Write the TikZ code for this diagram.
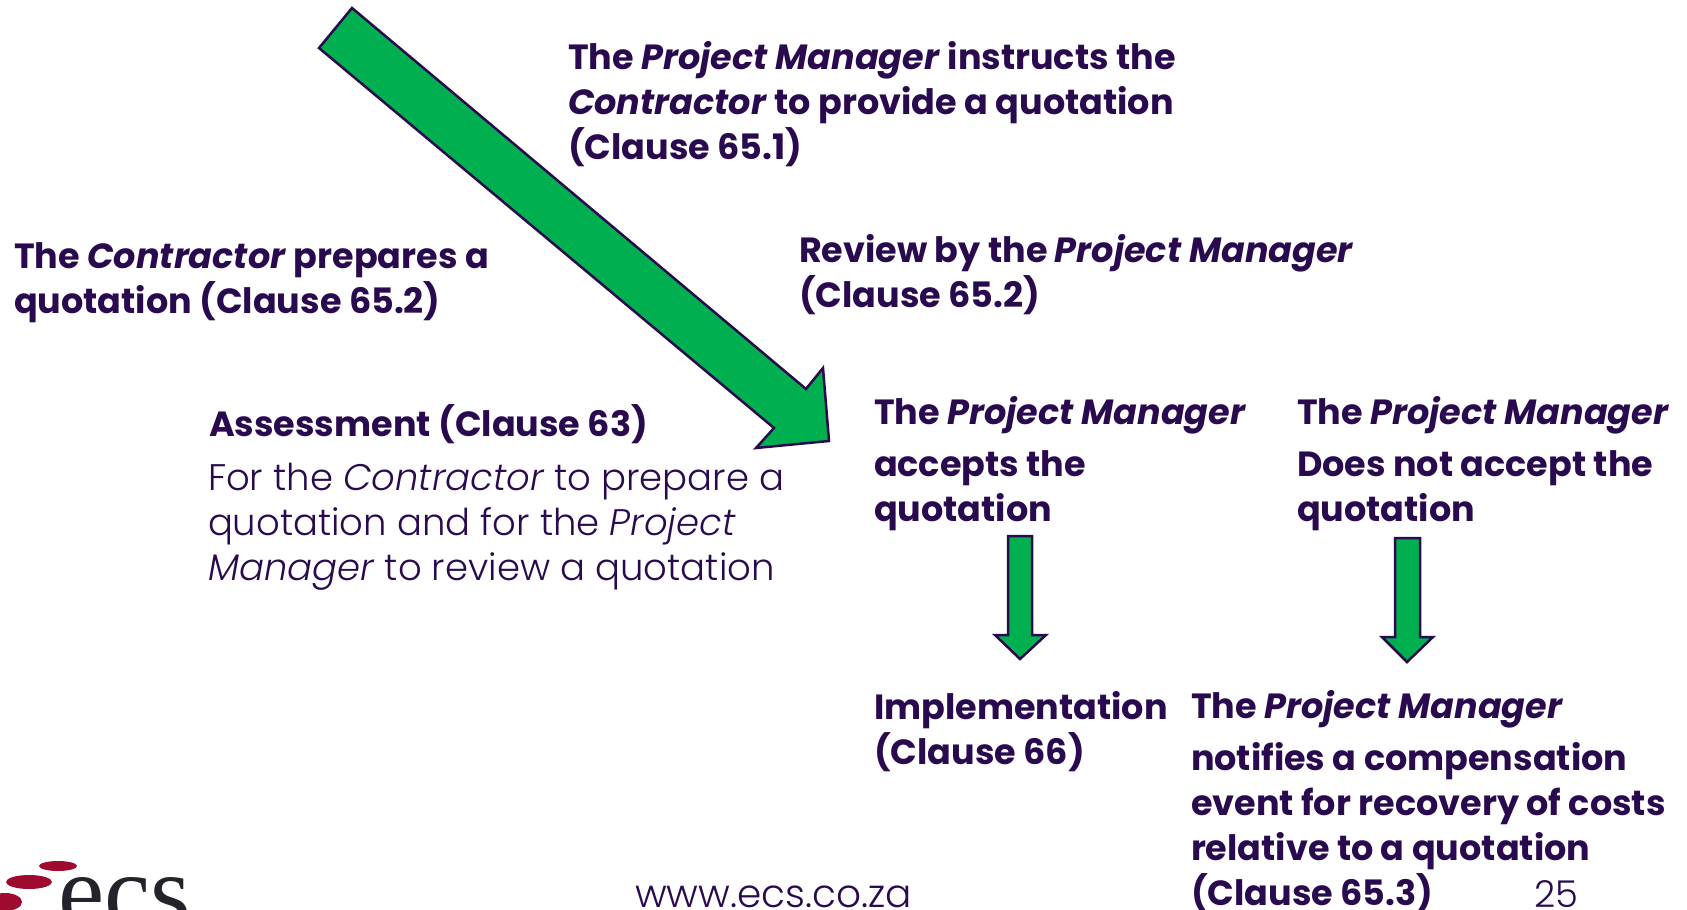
\documentclass[tikz,border=0pt]{standalone}
\usepackage{fontspec}
\setmainfont{Poppins}
\newfontfamily\lightfont[ItalicFont={Poppins Light Italic}]{Poppins Light}
\definecolor{ink}{HTML}{2A0A4E}
\definecolor{arrowgreen}{HTML}{00B050}
\definecolor{logored}{HTML}{9E0B2E}
\definecolor{logoink}{HTML}{23232B}
\tikzset{
  x=1pt,y=-1pt,
  txt/.style={anchor=base west,inner sep=0pt,outer sep=0pt,text=ink,align=left,font=\lightfont\fontsize{37}{45}\selectfont},
  bld/.style={txt,font=\fontsize{35}{45}\selectfont\bfseries},
  greenarrow/.style={fill=arrowgreen,draw=ink,line width=2.5pt,line join=miter},
  logodot/.style={fill=logored,draw=none}
}
\begin{document}
\begin{tikzpicture}
\useasboundingbox (0,0) rectangle (1687,910);
\begin{scope}
\clip (0,0) rectangle (1687,910);
\draw[greenarrow] (352,8) -- (806,389) -- (823,368) -- (829,441) -- (756,448) -- (774,428) -- (319,48) -- cycle;
\draw[greenarrow] (1008,536) -- (1032,536) -- (1032,635) -- (1046,635) -- (1020,659) -- (995,635) -- (1008,635) -- cycle;
\draw[greenarrow] (1395,538) -- (1420,538) -- (1420,637) -- (1433,637) -- (1407,662) -- (1382,637) -- (1395,637) -- cycle;
\node[bld] (instructs) at (568,159) {The \textit{Project Manager} instructs the\\\textit{Contractor} to provide a quotation\\(Clause 65.1)};
\node[bld] (prepares) at (14,313) {The \textit{Contractor} prepares a\\quotation (Clause 65.2)};
\node[bld] (review) at (799,307) {Review by the \textit{Project Manager}\\(Clause 65.2)};
\node[bld] (assess) at (209,436) {Assessment (Clause 63)};
\node[txt] (forthe) at (208,580) {For the \textit{Contractor} to prepare a\\quotation and for the \textit{Project}\\\textit{Manager} to review a quotation};
\node[bld] (accepts) at (874,521) {The \textit{Project Manager}\\[7pt]accepts the\\quotation};
\node[bld] (notaccept) at (1297,521) {The \textit{Project Manager}\\[7pt]Does not accept the\\quotation};
\node[bld] (impl) at (874,764) {Implementation\\(Clause 66)};
\node[bld] (notifies) at (1191,905) {The \textit{Project Manager}\\[7pt]notifies a compensation\\event for recovery of costs\\relative to a quotation\\(Clause 65.3)};
\node[txt,font=\lightfont\fontsize{39}{45}\selectfont] (web) at (635,907) {www.ecs.co.za};
\node[txt] (page) at (1534,907) {25};
\fill[logodot] (58,866) ellipse [x radius=19,y radius=5];
\fill[logodot] (29,882) ellipse [x radius=23,y radius=7];
\fill[logodot] (5,902) ellipse [x radius=17,y radius=9];
\node[anchor=base west,inner sep=0pt,text=logoink,font=\fontspec{Liberation Serif}\fontsize{104}{104}\selectfont] (logo) at (58,926) {ecs};
\end{scope}
\end{tikzpicture}
\end{document}
